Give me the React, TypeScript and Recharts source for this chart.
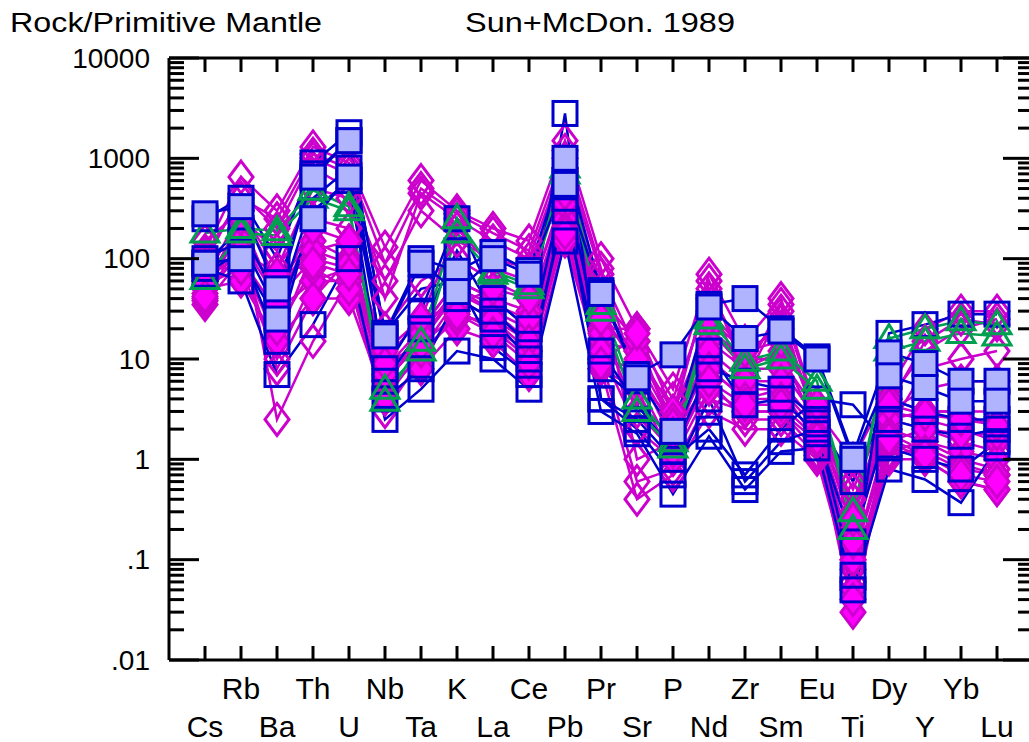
import React from 'react';
import { LineChart, Line, XAxis, YAxis } from 'recharts';

const elements = ['Cs', 'Rb', 'Ba', 'Th', 'U', 'Nb', 'Ta', 'K', 'La', 'Ce', 'Pb', 'Pr', 'Sr', 'P', 'Nd', 'Zr', 'Sm', 'Eu', 'Ti', 'Dy', 'Y', 'Yb', 'Lu'];

// open magenta diamonds
const hd1 = [120, 650, 300, 1300, 900, 130, 600, 300, 200, 150, 1500, 100, 20, 5, 70, 15, 40, 3, 1, 5, 20, 30, 30];
const hd2 = [90, 450, 200, 1000, 700, 40, 450, 250, 150, 100, 1000, 70, 12, 3, 50, 10, 25, 2.5, 0.6, 4, 12, 20, 25];
const hd3 = [60, 200, 2.5, 15, 60, 3, 10, 30, 20, 10, 200, 8, 0.4, 0.7, 3, 2, 2, 1, 0.05, 1, 1, 0.6, 0.5];
const hd4 = [150, 300, 80, 500, 400, 20, 60, 100, 60, 40, 500, 30, 8, 2, 20, 8, 12, 2, 0.3, 3, 5, 6, 6];
const hd5 = [70, 100, 15, 120, 150, 6, 15, 50, 30, 15, 300, 12, 2, 1, 8, 4, 5, 1.5, 0.1, 1.5, 2, 1.5, 1.2];
const hd6 = [100, 150, 40, 250, 200, 10, 25, 200, 80, 60, 800, 50, 1, 1.5, 30, 12, 20, 2.5, 0.2, 2.5, 3, 3, 3];
const hd7 = [80, 80, 10, 60, 80, 4, 12, 40, 25, 12, 250, 10, 0.6, 0.8, 4, 3, 3, 1.2, 0.08, 1.2, 1.5, 1, 0.8];
const hd8 = [50, 250, 120, 800, 500, 60, 300, 150, 100, 80, 700, 40, 15, 4, 40, 6, 30, 2, 0.4, 2, 8, 10, 12];
const hd9 = [110, 400, 250, 1100, 800, 90, 500, 280, 180, 120, 1200, 80, 6, 2.5, 60, 7, 35, 2.8, 0.5, 3.5, 15, 25, 22];
const hd10 = [65, 120, 8, 40, 100, 5, 20, 60, 40, 20, 400, 20, 3, 1.2, 6, 2.5, 2.5, 1.1, 0.06, 1.1, 1.3, 0.9, 0.7];

// filled magenta diamonds
const fd1 = [60, 300, 60, 150, 100, 8, 20, 60, 40, 30, 400, 20, 20, 3, 20, 10, 10, 3, 0.3, 4, 3, 3, 2];
const fd2 = [45, 200, 40, 100, 80, 6, 15, 45, 30, 20, 300, 15, 12, 2.5, 15, 8, 8, 2.5, 0.2, 3, 2.5, 2, 1.5];
const fd3 = [35, 100, 30, 60, 60, 5, 10, 30, 20, 12, 250, 10, 8, 1.5, 10, 5, 5, 2, 0.1, 2, 1.5, 1.2, 1];
const fd4 = [50, 60, 15, 40, 40, 4, 8, 20, 15, 7, 150, 8, 5, 1, 5, 3, 3, 1.5, 0.03, 1.5, 1, 0.6, 0.5];
const fd5 = [40, 150, 50, 120, 90, 7, 18, 50, 35, 25, 350, 18, 15, 2, 12, 6, 6, 2.2, 0.15, 2.5, 2, 1.8, 1.8];
const fd6 = [55, 80, 20, 80, 50, 10, 12, 25, 25, 15, 200, 12, 6, 1.2, 8, 4, 4, 1.8, 0.05, 1.8, 1.2, 0.8, 0.7];
const fd7 = [38, 250, 35, 200, 150, 12, 25, 35, 50, 40, 450, 25, 10, 2.2, 25, 12, 15, 3.5, 0.25, 3.5, 2.8, 2.5, 2.2];
const fd8 = [42, 120, 70, 90, 70, 9, 14, 28, 18, 9, 180, 9, 18, 1.8, 6, 3.5, 3.5, 1.6, 0.04, 1.6, 1.1, 0.7, 0.6];

// open blue squares
const hs1 = [80, 60, 7, 22, 100, 2.5, 5, 12, 10, 5, 150, 3, 1.8, 0.45, 1.7, 0.5, 1.2, 1.3, 0.05, 0.8, 0.63, 0.37, 1.3];
const hs2 = [100, 150, 30, 400, 800, 8, 30, 250, 40, 20, 2800, 4, 2, 0.7, 4, 0.6, 1.5, 2, 0.07, 18, 22, 28, 28];
const hs3 = [90, 200, 40, 700, 1500, 18, 50, 60, 13, 7, 400, 4, 2.5, 1, 2, 0.7, 2, 4, 3.5, 1.3, 1, 0.8, 1.5];
const hs4 = [250, 400, 100, 900, 1800, 6, 20, 120, 30, 14, 600, 12, 3.5, 1.2, 8, 6, 5, 2.5, 0.6, 4, 3, 2.5, 2.5];
const hs5 = [70, 120, 15, 300, 600, 4, 8, 40, 25, 10, 300, 8, 4, 1.5, 12, 3.5, 4, 1.8, 0.15, 2.5, 2, 1.7, 2];

// green triangles
const g1 = [180, 200, 190, 480, 330, 3.8, 15, 250, 75, 55, 800, 35, 4, 1.5, 25, 9.5, 12, 6, 0.2, 16, 20, 24, 22];
const g2 = [62, 180, 170, 400, 300, 5, 12, 180, 70, 50, 700, 30, 3, 1.3, 22, 8, 10, 5, 0.3, 12, 15, 18, 17];

// filled blue squares
const fs1 = [280, 330, 50, 650, 1500, 18, 100, 75, 115, 76, 1000, 48, 7, 11, 35, 40, 20, 10.5, 1.1, 11.5, 9, 6, 6];
const fs2 = [90, 100, 25, 250, 650, 17, 90, 47, 100, 70, 550, 45, 6.5, 1.9, 33, 16, 19, 10, 1.0, 6.8, 5.2, 3.8, 3.8];

const majorTicks = [0.01, 0.1, 1, 10, 100, 1000, 10000];
const majorLabels = ['.01', '.1', '1', '10', '100', '1000', '10000'];

const MAG = '#cc00cc';
const BLUE = '#0000cc';
const GREEN = '#00a050';

type Kind = 'hd' | 'fd' | 'hs' | 'g' | 'fs';
const groups: { kind: Kind; list: number[][] }[] = [
  { kind: 'hd', list: [hd1, hd2, hd3, hd4, hd5, hd6, hd7, hd8, hd9, hd10] },
  { kind: 'fd', list: [fd1, fd2, fd3, fd4, fd5, fd6, fd7, fd8] },
  { kind: 'hs', list: [hs1, hs2, hs3, hs4, hs5] },
  { kind: 'g', list: [g1, g2] },
  { kind: 'fs', list: [fs1, fs2] },
];

const series = groups.flatMap((g) => g.list.map((values, i) => ({ key: `${g.kind}${i}`, kind: g.kind, values })));

const rows = elements.map((el, i) => {
  const r: any = { x: i + 1, el };
  series.forEach((s) => (r[s.key] = s.values[i]));
  return r;
});

const yTicks: number[] = [];
for (let e = -2; e <= 4; e++) {
  yTicks.push(Math.pow(10, e));
  if (e < 4) for (let m = 2; m <= 9; m++) yTicks.push(m * Math.pow(10, e));
}
const xTicks = elements.map((_, i) => i + 1);

const isMajor = (v: number) => majorTicks.some((t) => Math.abs(t - v) / t < 1e-6);

const lineColor = (k: Kind) => (k === 'hd' || k === 'fd' ? MAG : k === 'g' ? GREEN : BLUE);

const makeDot = (kind: Kind) => (p: any) => {
  const { cx, cy, index, dataKey } = p;
  const key = `${dataKey}-${index}`;
  if (cx == null || cy == null) return <g key={key} />;
  if (kind === 'hd' || kind === 'fd') {
    return (
      <path
        key={key}
        d={`M${cx},${cy - 16}L${cx + 12},${cy}L${cx},${cy + 16}L${cx - 12},${cy}Z`}
        fill={kind === 'fd' ? '#ff00ff' : 'none'}
        stroke={MAG}
        strokeWidth={3}
      />
    );
  }
  if (kind === 'g') {
    return (
      <path key={key} d={`M${cx},${cy - 14}L${cx + 14},${cy + 9}L${cx - 14},${cy + 9}Z`} fill="none" stroke={GREEN} strokeWidth={3} />
    );
  }
  return (
    <rect key={key} x={cx - 12} y={cy - 12} width={24} height={24} fill={kind === 'fs' ? '#b0b4ff' : 'none'} stroke={BLUE} strokeWidth={3} />
  );
};

const LeftTick = (p: any) => {
  const { x, y, payload } = p;
  const v = payload.value;
  const major = isMajor(v);
  const idx = majorTicks.findIndex((t) => Math.abs(t - v) / t < 1e-6);
  return (
    <g>
      <line x1={x} x2={x + (major ? 30 : 15)} y1={y} y2={y} stroke="#000" strokeWidth={3} />
      {major && (
        <text x={x - 19} y={y} dy="0.35em" textAnchor="end" fontSize={28} fill="#000">
          {majorLabels[idx]}
        </text>
      )}
    </g>
  );
};

const RightTick = (p: any) => {
  const { x, y, payload } = p;
  const major = isMajor(payload.value);
  return <line x1={x} x2={x - (major ? 30 : 15)} y1={y} y2={y} stroke="#000" strokeWidth={3} />;
};

const BottomTick = (p: any) => {
  const { x, y, payload } = p;
  const i = payload.value - 1;
  const upper = i % 2 === 1;
  return (
    <g>
      <line x1={x} x2={x} y1={y} y2={y - 14} stroke="#000" strokeWidth={3} />
      <text x={x} y={y + (upper ? 39 : 77)} textAnchor="middle" fontSize={30} fill="#000">
        {elements[i]}
      </text>
    </g>
  );
};

const TopTick = (p: any) => {
  const { x, y } = p;
  return <line x1={x} x2={x} y1={y} y2={y + 14} stroke="#000" strokeWidth={3} />;
};

const axisLine = { stroke: '#000', strokeWidth: 3 };

export default function App() {
  return (
    <div style={{ position: 'fixed', left: 0, top: 0, width: 1029, height: 742, overflow: 'hidden', background: '#fff', fontFamily: '"Liberation Sans", Arial, sans-serif' }}>
      <svg width={1029} height={50} style={{ position: 'absolute', left: 0, top: 0 }}>
        <text x={10} y={32} fontSize={27} textLength={312} lengthAdjust="spacingAndGlyphs" fill="#000">
          Rock/Primitive Mantle
        </text>
        <text x={465} y={32} fontSize={27} textLength={270} lengthAdjust="spacingAndGlyphs" fill="#000">
          Sun+McDon. 1989
        </text>
      </svg>
      <div style={{ position: 'absolute', left: 0, top: 0 }}>
        <LineChart width={1060} height={742} data={rows} margin={{ top: 57, right: 7, bottom: 0, left: 0 }}>
          <XAxis dataKey="x" type="number" domain={[0, 24]} ticks={xTicks} interval={0} height={82} tickSize={0} tickMargin={0} tickLine={false} axisLine={axisLine} tick={BottomTick} allowDataOverflow />
          <XAxis xAxisId="top" orientation="top" dataKey="x" type="number" domain={[0, 24]} ticks={xTicks} interval={0} height={1} tickSize={0} tickMargin={0} tickLine={false} axisLine={axisLine} tick={TopTick} allowDataOverflow />
          <YAxis scale="log" domain={[0.01, 10000]} ticks={yTicks} interval={0} width={169} tickSize={0} tickMargin={0} tickLine={false} axisLine={axisLine} tick={LeftTick} allowDataOverflow />
          <YAxis yAxisId="right" orientation="right" scale="log" domain={[0.01, 10000]} ticks={yTicks} interval={0} width={20} tickSize={0} tickMargin={0} tickLine={false} axisLine={axisLine} tick={RightTick} allowDataOverflow />
          {series.map((s) => (
            <Line
              key={s.key}
              dataKey={s.key}
              type="linear"
              stroke={lineColor(s.kind)}
              strokeWidth={2.5}
              dot={makeDot(s.kind)}
              activeDot={false}
              isAnimationActive={false}
            />
          ))}
        </LineChart>
      </div>
    </div>
  );
}
